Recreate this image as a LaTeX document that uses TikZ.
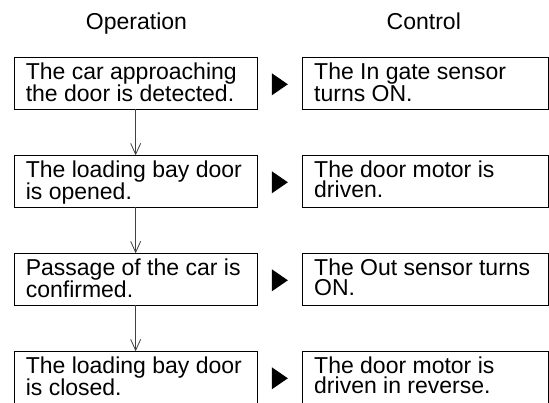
\documentclass[tikz,border=0pt]{standalone}
\usepackage{fontspec}
\setmainfont{Liberation Sans}
\usetikzlibrary{arrows.meta,calc}

\tikzset{
  opbox/.style={draw=black, line width=0.9pt, outer sep=0pt, anchor=north west,
    minimum width=242.7pt, minimum height=52pt, text width=219.7pt,
    inner xsep=11.5pt, inner ysep=0pt, text height=22pt, text depth=30pt,
    align=flush left, font=\fontsize{23}{20}\selectfont},
  ctbox/.style={opbox, minimum width=245.3pt, text width=222.3pt},
  headtext/.style={anchor=base, font=\fontsize{23}{20}\selectfont},
  flowarrow/.style={draw=black!75, line width=0.8pt, -{Straight Barb[length=11pt,width=10pt]}},
}

\begin{document}
\begin{tikzpicture}[x=1pt, y=-1pt]
  \useasboundingbox (0,0) rectangle (549,403);

  \node[headtext] (ophead) at (136.5,29.3) {Operation};
  \node[headtext] (cthead) at (423.8,29.3) {Control};

  \node[opbox] (op1) at (14.3,57.3)  {The car approaching\\the door is detected.};
  \node[opbox] (op2) at (14.3,155.3) {The loading bay door\\is opened.};
  \node[opbox] (op3) at (14.3,253.3) {Passage of the car is\\confirmed.};
  \node[opbox] (op4) at (14.3,351.3) {The loading bay door\\is closed.};

  \node[ctbox] (ct1) at (302.7,57.3)  {The In gate sensor\\turns ON.};
  \node[ctbox] (ct2) at (302.7,155.3) {The door motor is\\driven.};
  \node[ctbox] (ct3) at (302.7,253.3) {The Out sensor turns\\ON.};
  \node[ctbox] (ct4) at (302.7,351.3) {The door motor is\\driven in reverse.};

  \draw[flowarrow] (op1.south) -- (op2.north);
  \draw[flowarrow] (op2.south) -- (op3.north);
  \draw[flowarrow] (op3.south) -- (op4.north);

  % black pointers between the columns
  \coordinate (m1) at ($(op1.east)!0.5!(ct1.west)+(0,1)$);
  \coordinate (m2) at ($(op2.east)!0.5!(ct2.west)+(0,1)$);
  \coordinate (m3) at ($(op3.east)!0.5!(ct3.west)+(0,1)$);
  \coordinate (m4) at ($(op4.east)!0.5!(ct4.west)+(0,1)$);
  \fill (m1) ++(-8,-11) -- ++(16,11) -- ++(-16,11) -- cycle;
  \fill (m2) ++(-8,-11) -- ++(16,11) -- ++(-16,11) -- cycle;
  \fill (m3) ++(-8,-11) -- ++(16,11) -- ++(-16,11) -- cycle;
  \fill (m4) ++(-8,-11) -- ++(16,11) -- ++(-16,11) -- cycle;
\end{tikzpicture}
\end{document}
